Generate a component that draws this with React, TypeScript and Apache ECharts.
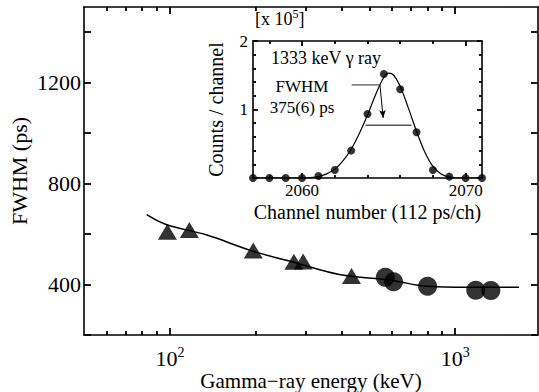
import React, { useEffect, useRef } from "react";
import * as echarts from "echarts";

const FONT = "'Liberation Serif', 'Times New Roman', Times, serif";

// ---- Main panel data (gamma-ray energy in keV, FWHM in ps) ----
const triangleEnergy = [98, 117, 196, 272, 293, 433];
const triangleFwhm = [609, 616, 535, 490, 491, 434];
const circleEnergy = [569, 608, 800, 1180, 1333];
const circleFwhm = [429, 411, 393, 377, 376];
const fitEnergy = [83, 97, 134, 196, 276, 392, 595, 800, 1102, 1673];
const fitFwhm = [677, 638, 597, 532, 486, 440, 417, 393, 389, 389];

const xMajorTicks = [100, 1000];
const xMinorTicks = [60, 70, 80, 90, 200, 300, 400, 500, 600, 700, 800, 900];
const yTicks = [200, 400, 600, 800, 1000, 1200, 1400];
const yLabelTicks = [400, 800, 1200];

// ---- Inset data (channel number, counts / channel in units of 1e5) ----
const channel = [2057, 2058, 2059, 2060, 2061, 2062, 2063, 2064, 2065, 2066, 2067, 2068, 2069, 2070, 2071];
const counts = [0, 0, 0, 0, 0.03, 0.117, 0.40, 0.934, 1.518, 1.295, 0.667, 0.117, 0.02, 0, 0];
const fitChannel = [2057, 2058, 2059, 2060, 2060.5, 2061, 2061.5, 2062, 2062.5, 2063, 2063.5, 2064, 2064.5, 2065, 2065.3, 2065.6, 2066, 2066.5, 2067, 2067.5, 2068, 2068.5, 2069, 2069.5, 2070, 2071];
const fitCounts = [0, 0, 0, 0, 0.005, 0.02, 0.06, 0.13, 0.25, 0.42, 0.65, 0.92, 1.22, 1.47, 1.53, 1.5, 1.34, 1.02, 0.68, 0.38, 0.17, 0.06, 0.015, 0, 0, 0];
const insetXMajor = [2060, 2070];
const insetXMinor = [2058, 2062, 2064, 2066, 2068];
const insetYMajor = [0, 1, 2];
const insetYMinor = [0.2, 0.4, 0.6, 0.8, 1.2, 1.4, 1.6, 1.8];
const insetYLabels = [1, 2];
const fwhmBarX = [2063.88, 2066.69];
const fwhmBarY = 0.77;
const pointerBarX = [2063.03, 2064.76];
const pointerBarY = 1.36;
const arrowEnd = [2064.96, 0.876];

const BLACK = "#000";
const lineStyle = { color: BLACK, width: 1.6 };

function tickAxis(base: any, ticks: number[], len: number, showLine: boolean, extra: any = {}) {
  return {
    ...base,
    axisLine: { show: showLine, onZero: false, lineStyle },
    axisTick: { show: true, inside: true, length: len, customValues: ticks, lineStyle: { color: BLACK, width: 1.8 } },
    axisLabel: { show: false },
    splitLine: { show: false },
    ...extra,
  };
}

const plain = (v: number) => String(v);

export default function App() {
  const ref = useRef<HTMLDivElement>(null);
  useEffect(() => {
    const chart = echarts.init(ref.current!, null, { renderer: "svg" });

    const mainX = { gridIndex: 0, type: "log", logBase: 10, min: 50, max: 1950 };
    const mainY = { gridIndex: 0, type: "value", min: 200, max: 1500, interval: 200 };
    const insX = { gridIndex: 1, type: "value", min: 2057, max: 2071 };
    const insY = { gridIndex: 1, type: "value", min: 0, max: 2 };

    const option: any = {
      animation: false,
      backgroundColor: "#fff",
      textStyle: { fontFamily: FONT, color: BLACK },
      grid: [
        { left: 84, top: 7, right: 1, bottom: 57, containLabel: false, outerBoundsMode: "none" },
        { left: 253, top: 41, right: 57, bottom: 214, containLabel: false, outerBoundsMode: "none" },
      ],
      xAxis: [
        tickAxis({ ...mainX, position: "bottom" }, xMajorTicks, 7, true, {
          name: "Gamma\u2212ray energy (keV)",
          nameLocation: "middle",
          nameGap: 35,
          nameMoveOverlap: false,
          nameTextStyle: { fontSize: 21, fontFamily: FONT, color: BLACK },
          axisLabel: {
            show: true,
            margin: 10,
            customValues: xMajorTicks,
            formatter: (v: number) => "{b|10}{s|" + Math.round(Math.log10(v)) + "}",
            rich: {
              b: { fontSize: 22, fontFamily: FONT, color: BLACK, lineHeight: 26 },
              s: { fontSize: 14, fontFamily: FONT, color: BLACK, lineHeight: 12, verticalAlign: "top" },
            },
          },
        }),
        tickAxis({ ...mainX, position: "bottom" }, xMinorTicks, 4, false),
        tickAxis({ ...mainX, position: "top" }, xMajorTicks, 7, true),
        tickAxis({ ...mainX, position: "top" }, xMinorTicks, 4, false),
        tickAxis({ ...insX, position: "bottom" }, insetXMajor, 5, true, {
          name: "Channel number (112 ps/ch)",
          nameLocation: "middle",
          nameGap: 24,
          nameMoveOverlap: false,
          nameTextStyle: { fontSize: 20, fontFamily: FONT, color: BLACK },
          axisLabel: { show: true, margin: 4, customValues: insetXMajor, formatter: plain, fontSize: 17, fontFamily: FONT, color: BLACK },
        }),
        tickAxis({ ...insX, position: "bottom" }, insetXMinor, 3, false),
        tickAxis({ ...insX, position: "top" }, insetXMajor, 5, true),
        tickAxis({ ...insX, position: "top" }, insetXMinor, 3, false),
      ],
      yAxis: [
        tickAxis({ ...mainY, position: "left" }, yTicks, 7, true, {
          name: "FWHM (ps)",
          nameLocation: "middle",
          nameRotate: 90,
          nameGap: 54,
          nameMoveOverlap: false,
          nameTextStyle: { fontSize: 22, fontFamily: FONT, color: BLACK },
          axisLabel: { show: true, margin: 3, customValues: yLabelTicks, formatter: plain, fontSize: 22, fontFamily: FONT, color: BLACK },
        }),
        tickAxis({ ...mainY, position: "right" }, yTicks, 7, true),
        tickAxis({ ...insY, position: "left" }, insetYMajor, 5, true, {
          name: "Counts / channel",
          nameLocation: "middle",
          nameRotate: 90,
          nameGap: 27,
          nameMoveOverlap: false,
          nameTextStyle: { fontSize: 20, fontFamily: FONT, color: BLACK },
          axisLabel: { show: true, margin: 5, customValues: insetYLabels, formatter: plain, fontSize: 17, fontFamily: FONT, color: BLACK },
        }),
        tickAxis({ ...insY, position: "left" }, insetYMinor, 3, false),
        tickAxis({ ...insY, position: "right" }, insetYMajor, 5, true),
        tickAxis({ ...insY, position: "right" }, insetYMinor, 3, false),
      ],
      series: [
        {
          type: "line",
          xAxisIndex: 0,
          yAxisIndex: 0,
          data: fitEnergy.map((e, i) => [e, fitFwhm[i]]),
          smooth: 0.4,
          symbol: "none",
          lineStyle: { color: BLACK, width: 1.5 },
          z: 2,
        },
        {
          type: "scatter",
          xAxisIndex: 0,
          yAxisIndex: 0,
          symbol: "triangle",
          symbolSize: [19, 16],
          itemStyle: { color: BLACK },
          data: triangleEnergy.map((e, i) => [e, triangleFwhm[i]]),
          z: 3,
        },
        {
          type: "scatter",
          xAxisIndex: 0,
          yAxisIndex: 0,
          symbol: "circle",
          symbolSize: 19,
          itemStyle: { color: BLACK },
          data: circleEnergy.map((e, i) => [e, circleFwhm[i]]),
          z: 3,
        },
        {
          type: "line",
          xAxisIndex: 4,
          yAxisIndex: 2,
          data: fitChannel.map((c, i) => [c, fitCounts[i]]),
          smooth: 0.3,
          symbol: "none",
          lineStyle: { color: BLACK, width: 1.2 },
          z: 2,
        },
        {
          type: "scatter",
          xAxisIndex: 4,
          yAxisIndex: 2,
          symbol: "circle",
          symbolSize: 8,
          itemStyle: { color: BLACK },
          data: channel.map((c, i) => [c, counts[i]]),
          z: 3,
        },
        {
          type: "line",
          xAxisIndex: 4,
          yAxisIndex: 2,
          data: fwhmBarX.map((c) => [c, fwhmBarY]),
          symbol: "none",
          lineStyle: { color: "#555", width: 1.3 },
          z: 2,
        },
        {
          type: "line",
          xAxisIndex: 4,
          yAxisIndex: 2,
          data: pointerBarX.map((c) => [c, pointerBarY]),
          symbol: "none",
          lineStyle: { color: "#555", width: 1.3 },
          z: 2,
          markLine: {
            silent: true,
            symbol: ["none", "arrow"],
            symbolSize: [5, 8],
            label: { show: false },
            lineStyle: { color: BLACK, width: 1, type: "solid" },
            data: [[{ coord: [pointerBarX[1], pointerBarY] }, { coord: arrowEnd }]],
          },
        },
      ],
      graphic: [
        {
          type: "text",
          x: 255,
          y: 19,
          style: {
            text: "[x 10{s|5}]",
            fill: BLACK,
            fontSize: 18,
            fontFamily: FONT,
            lineHeight: 22,
            textVerticalAlign: "middle",
            rich: { s: { fontSize: 12, fontFamily: FONT, lineHeight: 10, verticalAlign: "top", fill: BLACK } },
          },
        },
        {
          type: "text",
          x: 271,
          y: 58,
          style: { text: "1333 keV \u03b3 ray", fill: BLACK, fontSize: 18, fontFamily: FONT, textVerticalAlign: "middle" },
        },
        {
          type: "text",
          x: 302,
          y: 86,
          style: { text: "FWHM", fill: BLACK, fontSize: 17, fontFamily: FONT, textAlign: "center", textVerticalAlign: "middle" },
        },
        {
          type: "text",
          x: 302,
          y: 107,
          style: { text: "375(6) ps", fill: BLACK, fontSize: 17, fontFamily: FONT, textAlign: "center", textVerticalAlign: "middle" },
        },
      ],
    };

    chart.setOption(option);
    return () => chart.dispose();
  }, []);

  return <div ref={ref} style={{ position: "absolute", left: 0, top: 0, width: 539, height: 392 }} />;
}
